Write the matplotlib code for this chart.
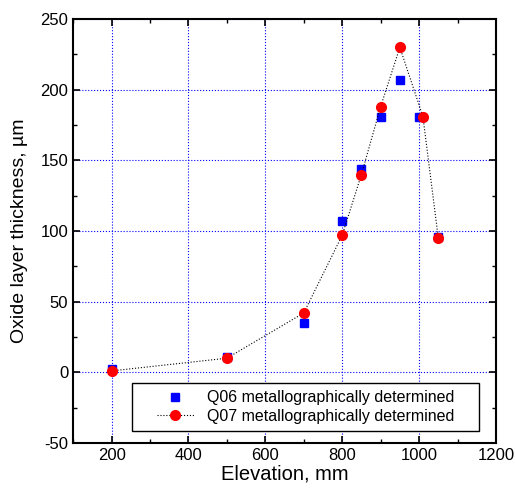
import numpy as np
import matplotlib.pyplot as plt
from matplotlib.ticker import MultipleLocator
from matplotlib.patches import Rectangle

plt.rcParams['font.family'] = ['Liberation Sans', 'DejaVu Sans']
plt.rcParams['axes.unicode_minus'] = False

# Q06 metallographically determined
x_q06 = [200, 500, 700, 800, 850, 900, 950, 1000, 1050]
y_q06 = [2, 11, 35, 107, 144, 181, 207, 181, 96]

# Q07 metallographically determined
x_q07 = [200, 500, 700, 800, 850, 900, 950, 1010, 1050]
y_q07 = [1, 10, 42, 97, 140, 188, 230, 181, 95]

fig = plt.figure(figsize=(5.15, 4.9), dpi=100)
ax = fig.add_axes([0.142, 0.096, 0.821, 0.865])

ax.plot(x_q06, y_q06, 's', color='blue', markersize=5.5, linestyle='none',
        label='Q06 metallographically determined', zorder=3)
ax.plot(x_q07, y_q07, marker='o', color='black', linestyle=':', linewidth=0.8,
        markersize=7, markerfacecolor='red', markeredgecolor='red',
        label='Q07 metallographically determined', zorder=4)

ax.set_xlim(100, 1200)
ax.set_ylim(-50, 250)
ax.xaxis.set_major_locator(MultipleLocator(200))
ax.xaxis.set_minor_locator(MultipleLocator(100))
ax.yaxis.set_major_locator(MultipleLocator(50))
ax.yaxis.set_minor_locator(MultipleLocator(25))

ax.grid(True, which='major', color='blue', linestyle=':', linewidth=0.8)
ax.tick_params(which='both', direction='in', top=True, right=True, labelsize=12)
ax.tick_params(which='major', length=5, width=1.2)
ax.tick_params(which='minor', length=3, width=1.0)
for s in ax.spines.values():
    s.set_linewidth(1.5)

ax.set_xlabel('Elevation, mm', fontsize=14.5, labelpad=1)
ax.set_ylabel('Oxide layer thickness, µm', fontsize=14, labelpad=9)

# legend box (wider than content, like the original)
box = (0.139, 0.028, 0.821, 0.1135)
ax.add_patch(Rectangle(box[:2], box[2], box[3], transform=ax.transAxes,
                       facecolor='white', edgecolor='black', linewidth=1.0,
                       zorder=5))
leg = ax.legend(loc='center', bbox_to_anchor=box, fontsize=11.5, frameon=False,
                handlelength=2.3, handletextpad=0.8, labelspacing=0.2)
leg.set_zorder(6)

fig.savefig('out.png', dpi=100)
